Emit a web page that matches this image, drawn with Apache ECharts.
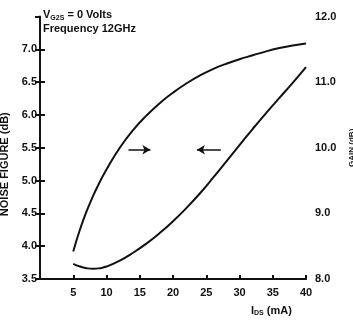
<!DOCTYPE html>
<html>
<head>
<meta charset="utf-8">
<style>
  html, body { margin: 0; padding: 0; background: #fff; }
  #chart { width: 353px; height: 323px; }
</style>
<script src="https://cdn.jsdelivr.net/npm/echarts@6/dist/echarts.min.js"></script>
</head>
<body>
<div id="chart"></div>
<script>
// Drain current I_DS (mA)
const currentMA = [5, 6, 7, 8, 9, 10, 12, 14, 16, 18, 20, 22, 24, 26, 28, 30, 32, 34, 36, 38, 40];
// Noise figure (dB), left axis
const noiseFigure = [3.73, 3.69, 3.665, 3.655, 3.665, 3.69, 3.78, 3.90, 4.04, 4.20, 4.38, 4.58, 4.80, 5.04, 5.29, 5.54, 5.79, 6.03, 6.26, 6.49, 6.73];
// Associated gain (dB), right axis
const gainDb = [8.42, 8.75, 9.03, 9.27, 9.48, 9.67, 10.00, 10.27, 10.49, 10.68, 10.84, 10.98, 11.10, 11.20, 11.28, 11.35, 11.41, 11.47, 11.52, 11.56, 11.59];
// Arrows telling which curve belongs to which axis: [from mA, to mA, gain level]
const axisArrows = [[13.3, 16.6, 9.97], [27.2, 23.6, 9.97]];

const ink = '#111';
const font = 'Liberation Sans, Arial, sans-serif';

const chart = echarts.init(document.getElementById('chart'), null, { renderer: 'canvas' });

const pairs = (xs, ys) => xs.map((x, i) => [x, ys[i]]);

const option = {
  animation: false,
  backgroundColor: '#fff',
  textStyle: { fontFamily: font },
  title: {
    left: 38, top: 3,
    text: '{v|V}{s|G2S}{v| = 0 Volts}\n{v|Frequency 12GHz}',
    textStyle: {
      rich: {
        v: { fontSize: 11, fontWeight: 'bold', color: ink, fontFamily: font, lineHeight: 14 },
        s: { fontSize: 7, fontWeight: 'bold', color: ink, fontFamily: font, lineHeight: 7, verticalAlign: 'bottom' }
      }
    }
  },
  graphic: [{
    type: 'text', left: 251, top: 305,
    style: {
      text: '{v|I}{s|DS}{v| (mA)}',
      rich: {
        v: { fontSize: 11, fontWeight: 'bold', fill: ink, fontFamily: font, lineHeight: 13 },
        s: { fontSize: 7, fontWeight: 'bold', fill: ink, fontFamily: font, lineHeight: 7, verticalAlign: 'bottom' }
      }
    }
  }],
  grid: [
    { left: 40, right: 47, top: 49.4, bottom: 44, containLabel: false, outerBoundsMode: 'none' },
    { left: 40, right: 47, top: 16.6, bottom: 44, containLabel: false, outerBoundsMode: 'none' }
  ],
  xAxis: [{
    gridIndex: 0, type: 'value', min: 0, max: 40, interval: 5,
    axisLine: { show: true, lineStyle: { color: ink, width: 2 } },
    axisTick: { show: true, inside: true, length: 4, lineStyle: { color: ink, width: 2 } },
    axisLabel: {
      margin: 8, color: ink, fontSize: 11, fontWeight: 'bold', fontFamily: font,
      formatter: v => (v === 0 ? '' : String(v))
    },
    splitLine: { show: false }
  }, {
    gridIndex: 1, type: 'value', min: 0, max: 40, show: false
  }],
  yAxis: [{
    gridIndex: 0, type: 'value', position: 'left', min: 3.5, max: 7, interval: 0.5,
    name: 'NOISE FIGURE (dB)', nameLocation: 'middle', nameRotate: 90, nameGap: 25,
    nameTextStyle: { color: ink, fontSize: 11, fontWeight: 'bold', fontFamily: font, padding: [0, 0, -6, 0] },
    axisLine: { show: true, lineStyle: { color: ink, width: 2 } },
    axisTick: { show: true, inside: true, length: 5, lineStyle: { color: ink, width: 2 } },
    axisLabel: {
      margin: 3, color: ink, fontSize: 11, fontWeight: 'bold', fontFamily: font,
      formatter: v => v.toFixed(1)
    },
    splitLine: { show: false }
  }, {
    gridIndex: 1, type: 'value', position: 'right', min: 8, max: 12, interval: 0.5,
    name: 'GAIN (dB)', nameLocation: 'middle', nameRotate: 90, nameGap: 33,
    nameTextStyle: { color: ink, fontSize: 8, fontWeight: 'bold', fontFamily: font, padding: [-8, 0, 0, 0] },
    axisLine: { show: true, lineStyle: { color: ink, width: 2 } },
    axisTick: { show: true, inside: true, length: 5, lineStyle: { color: ink, width: 2 } },
    axisLabel: {
      margin: 9, color: ink, fontSize: 11, fontWeight: 'bold', fontFamily: font,
      formatter: v => (Math.abs(v - Math.round(v)) < 1e-9 ? v.toFixed(1) : '')
    },
    splitLine: { show: false }
  }],
  series: [{
    name: 'Noise figure', type: 'line', xAxisIndex: 0, yAxisIndex: 0,
    data: pairs(currentMA, noiseFigure),
    smooth: 0.5, showSymbol: false,
    lineStyle: { color: ink, width: 2 }
  }, {
    name: 'Gain', type: 'line', xAxisIndex: 1, yAxisIndex: 1,
    data: pairs(currentMA, gainDb),
    smooth: 0.5, showSymbol: false,
    lineStyle: { color: ink, width: 2 },
    markLine: {
      silent: true, symbol: ['none', 'arrow'], symbolSize: [7, 8],
      label: { show: false },
      lineStyle: { color: ink, width: 1.5, type: 'solid' },
      data: axisArrows.map(a => [{ coord: [a[0], a[2]] }, { coord: [a[1], a[2]] }])
    }
  }]
};

chart.setOption(option);
chart.resize();
</script>
</body>
</html>
